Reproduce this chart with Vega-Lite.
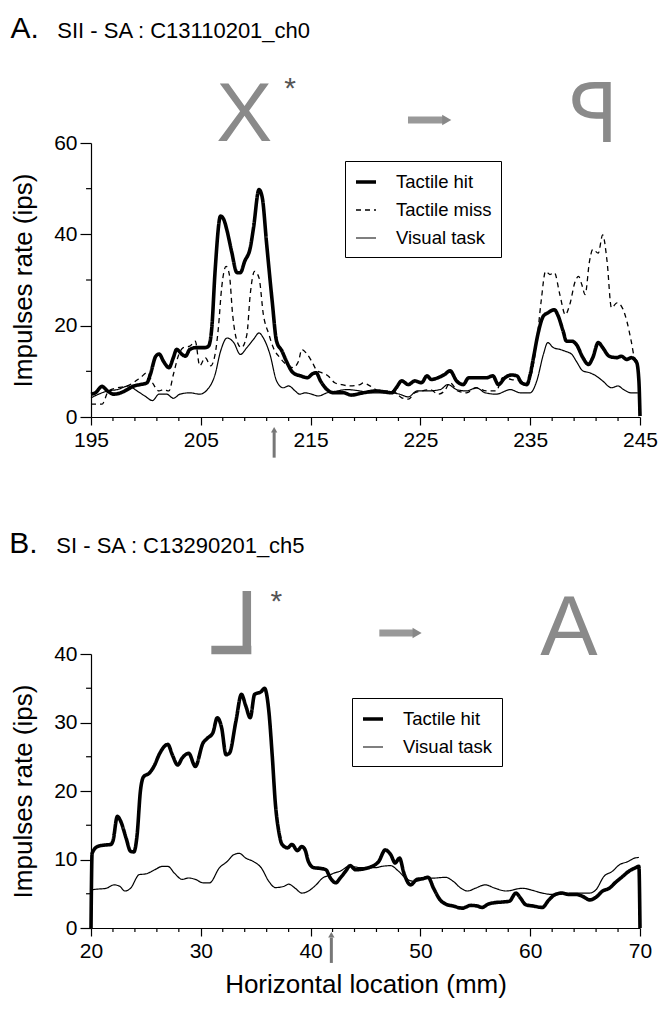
{
"$schema": "https://vega.github.io/schema/vega-lite/v6.json",
"padding": {"left": 9, "top": 14, "right": 5, "bottom": 5},
"bounds": "flush",
"spacing": 237,
"resolve": {"scale": {"x": "independent", "y": "independent", "strokeDash": "independent", "strokeWidth": "independent"}, "legend": {"strokeDash": "independent", "strokeWidth": "independent"}},
"config": {
  "view": {"stroke": null},
  "font": "Liberation Sans",
  "axis": {"domainColor": "black", "domainWidth": 1.2, "tickColor": "black", "tickWidth": 1.2, "labelColor": "black", "titleColor": "black", "labelFont": "Liberation Sans", "titleFont": "Liberation Sans", "labelFontSize": 21, "titleFontSize": 26, "titleFontWeight": "normal", "grid": false, "labelOverlap": false, "labelFlush": false, "labelBound": false},
  "legend": {"labelFont": "Liberation Sans", "labelFontSize": 18.5, "labelColor": "black", "symbolType": "stroke", "symbolSize": 400, "symbolStrokeColor": "black", "strokeColor": "black", "padding": 9, "rowPadding": 7, "labelOffset": 18, "orient": "none"}
},
"datasets": {
  "a": [
{"x":195,"y":5.0,"s":"Tactile hit"},{"x":195.4,"y":5.3,"s":"Tactile hit"},{"x":196.0,"y":6.7,"s":"Tactile hit"},{"x":196.5,"y":5.7,"s":"Tactile hit"},{"x":197.1,"y":5.0,"s":"Tactile hit"},{"x":197.7,"y":5.3,"s":"Tactile hit"},{"x":198.3,"y":6.0,"s":"Tactile hit"},{"x":198.9,"y":6.8,"s":"Tactile hit"},{"x":199.5,"y":7.1,"s":"Tactile hit"},{"x":200.1,"y":7.5,"s":"Tactile hit"},{"x":200.4,"y":9.3,"s":"Tactile hit"},{"x":200.9,"y":13.3,"s":"Tactile hit"},{"x":201.2,"y":13.8,"s":"Tactile hit"},{"x":201.6,"y":12.2,"s":"Tactile hit"},{"x":202.1,"y":10.8,"s":"Tactile hit"},{"x":202.5,"y":13.0,"s":"Tactile hit"},{"x":202.8,"y":14.8,"s":"Tactile hit"},{"x":203.3,"y":13.7,"s":"Tactile hit"},{"x":203.6,"y":13.3,"s":"Tactile hit"},{"x":204.0,"y":14.8,"s":"Tactile hit"},{"x":204.6,"y":15.2,"s":"Tactile hit"},{"x":205.4,"y":15.2,"s":"Tactile hit"},{"x":205.7,"y":15.5,"s":"Tactile hit"},{"x":206.0,"y":19.5,"s":"Tactile hit"},{"x":206.3,"y":31.9,"s":"Tactile hit"},{"x":206.8,"y":44.0,"s":"Tactile hit"},{"x":207.1,"y":43.2,"s":"Tactile hit"},{"x":207.4,"y":40.7,"s":"Tactile hit"},{"x":207.8,"y":36.3,"s":"Tactile hit"},{"x":208.3,"y":31.6,"s":"Tactile hit"},{"x":208.6,"y":31.6,"s":"Tactile hit"},{"x":209.0,"y":34.1,"s":"Tactile hit"},{"x":209.5,"y":37.0,"s":"Tactile hit"},{"x":209.8,"y":41.4,"s":"Tactile hit"},{"x":210.3,"y":49.8,"s":"Tactile hit"},{"x":210.6,"y":48.0,"s":"Tactile hit"},{"x":211.0,"y":37.8,"s":"Tactile hit"},{"x":211.5,"y":25.4,"s":"Tactile hit"},{"x":211.9,"y":16.6,"s":"Tactile hit"},{"x":212.4,"y":14.4,"s":"Tactile hit"},{"x":212.8,"y":12.2,"s":"Tactile hit"},{"x":213.4,"y":9.7,"s":"Tactile hit"},{"x":214.1,"y":9.0,"s":"Tactile hit"},{"x":214.7,"y":8.6,"s":"Tactile hit"},{"x":215.2,"y":9.5,"s":"Tactile hit"},{"x":215.5,"y":9.7,"s":"Tactile hit"},{"x":215.9,"y":7.9,"s":"Tactile hit"},{"x":216.5,"y":6.0,"s":"Tactile hit"},{"x":217.1,"y":5.3,"s":"Tactile hit"},{"x":218.0,"y":5.3,"s":"Tactile hit"},{"x":218.7,"y":4.8,"s":"Tactile hit"},{"x":219.8,"y":5.3,"s":"Tactile hit"},{"x":221.0,"y":5.7,"s":"Tactile hit"},{"x":222.4,"y":5.3,"s":"Tactile hit"},{"x":222.8,"y":6.4,"s":"Tactile hit"},{"x":223.3,"y":7.9,"s":"Tactile hit"},{"x":223.9,"y":7.1,"s":"Tactile hit"},{"x":224.5,"y":7.9,"s":"Tactile hit"},{"x":225.1,"y":7.5,"s":"Tactile hit"},{"x":225.6,"y":9.0,"s":"Tactile hit"},{"x":226.0,"y":8.2,"s":"Tactile hit"},{"x":226.6,"y":8.6,"s":"Tactile hit"},{"x":227.2,"y":9.3,"s":"Tactile hit"},{"x":227.7,"y":10.1,"s":"Tactile hit"},{"x":228.3,"y":7.9,"s":"Tactile hit"},{"x":228.9,"y":7.1,"s":"Tactile hit"},{"x":229.4,"y":8.6,"s":"Tactile hit"},{"x":230.3,"y":8.6,"s":"Tactile hit"},{"x":231.0,"y":8.6,"s":"Tactile hit"},{"x":231.6,"y":9.0,"s":"Tactile hit"},{"x":232.1,"y":7.1,"s":"Tactile hit"},{"x":232.7,"y":8.6,"s":"Tactile hit"},{"x":233.3,"y":9.2,"s":"Tactile hit"},{"x":233.8,"y":9.0,"s":"Tactile hit"},{"x":234.2,"y":7.5,"s":"Tactile hit"},{"x":234.7,"y":7.1,"s":"Tactile hit"},{"x":235.0,"y":9.3,"s":"Tactile hit"},{"x":235.3,"y":13.0,"s":"Tactile hit"},{"x":235.7,"y":18.1,"s":"Tactile hit"},{"x":236.2,"y":22.1,"s":"Tactile hit"},{"x":236.6,"y":22.8,"s":"Tactile hit"},{"x":237.2,"y":23.5,"s":"Tactile hit"},{"x":237.5,"y":22.4,"s":"Tactile hit"},{"x":238.0,"y":18.8,"s":"Tactile hit"},{"x":238.3,"y":16.6,"s":"Tactile hit"},{"x":238.8,"y":16.6,"s":"Tactile hit"},{"x":239.2,"y":15.9,"s":"Tactile hit"},{"x":239.8,"y":13.0,"s":"Tactile hit"},{"x":240.3,"y":11.5,"s":"Tactile hit"},{"x":240.7,"y":13.0,"s":"Tactile hit"},{"x":241.2,"y":16.3,"s":"Tactile hit"},{"x":241.6,"y":15.2,"s":"Tactile hit"},{"x":242.2,"y":13.3,"s":"Tactile hit"},{"x":242.9,"y":13.0,"s":"Tactile hit"},{"x":243.3,"y":13.3,"s":"Tactile hit"},{"x":243.8,"y":12.6,"s":"Tactile hit"},{"x":244.2,"y":13.0,"s":"Tactile hit"},{"x":244.7,"y":11.9,"s":"Tactile hit"},{"x":244.9,"y":7.9,"s":"Tactile hit"},{"x":245.0,"y":0.2,"s":"Tactile hit"},
{"x":195,"y":2.8,"s":"Tactile miss"},{"x":196.0,"y":2.8,"s":"Tactile miss"},{"x":196.6,"y":5.7,"s":"Tactile miss"},{"x":197.4,"y":6.4,"s":"Tactile miss"},{"x":198.3,"y":6.8,"s":"Tactile miss"},{"x":199.5,"y":8.6,"s":"Tactile miss"},{"x":200.1,"y":9.7,"s":"Tactile miss"},{"x":200.6,"y":7.5,"s":"Tactile miss"},{"x":201.2,"y":5.7,"s":"Tactile miss"},{"x":201.6,"y":6.0,"s":"Tactile miss"},{"x":202.1,"y":5.7,"s":"Tactile miss"},{"x":202.5,"y":9.3,"s":"Tactile miss"},{"x":203.0,"y":13.7,"s":"Tactile miss"},{"x":203.4,"y":15.2,"s":"Tactile miss"},{"x":204.0,"y":15.5,"s":"Tactile miss"},{"x":204.5,"y":16.6,"s":"Tactile miss"},{"x":204.9,"y":11.2,"s":"Tactile miss"},{"x":205.4,"y":13.0,"s":"Tactile miss"},{"x":205.9,"y":11.2,"s":"Tactile miss"},{"x":206.3,"y":13.7,"s":"Tactile miss"},{"x":206.6,"y":19.5,"s":"Tactile miss"},{"x":206.9,"y":28.3,"s":"Tactile miss"},{"x":207.3,"y":33.0,"s":"Tactile miss"},{"x":207.6,"y":31.2,"s":"Tactile miss"},{"x":207.9,"y":22.4,"s":"Tactile miss"},{"x":208.3,"y":16.6,"s":"Tactile miss"},{"x":208.7,"y":15.2,"s":"Tactile miss"},{"x":209.2,"y":18.1,"s":"Tactile miss"},{"x":209.5,"y":26.8,"s":"Tactile miss"},{"x":209.9,"y":31.9,"s":"Tactile miss"},{"x":210.3,"y":30.5,"s":"Tactile miss"},{"x":210.7,"y":22.4,"s":"Tactile miss"},{"x":211.2,"y":18.1,"s":"Tactile miss"},{"x":211.6,"y":15.2,"s":"Tactile miss"},{"x":212.2,"y":13.0,"s":"Tactile miss"},{"x":212.8,"y":11.5,"s":"Tactile miss"},{"x":213.4,"y":10.8,"s":"Tactile miss"},{"x":213.9,"y":12.2,"s":"Tactile miss"},{"x":214.2,"y":14.8,"s":"Tactile miss"},{"x":214.7,"y":13.7,"s":"Tactile miss"},{"x":215.1,"y":12.2,"s":"Tactile miss"},{"x":215.6,"y":10.1,"s":"Tactile miss"},{"x":216.0,"y":9.7,"s":"Tactile miss"},{"x":216.6,"y":9.0,"s":"Tactile miss"},{"x":217.2,"y":7.5,"s":"Tactile miss"},{"x":217.8,"y":7.1,"s":"Tactile miss"},{"x":218.6,"y":6.8,"s":"Tactile miss"},{"x":219.5,"y":7.1,"s":"Tactile miss"},{"x":219.8,"y":7.5,"s":"Tactile miss"},{"x":220.4,"y":6.8,"s":"Tactile miss"},{"x":221.3,"y":5.7,"s":"Tactile miss"},{"x":222.5,"y":5.7,"s":"Tactile miss"},{"x":223.3,"y":4.2,"s":"Tactile miss"},{"x":223.9,"y":3.9,"s":"Tactile miss"},{"x":224.5,"y":5.3,"s":"Tactile miss"},{"x":225.1,"y":5.7,"s":"Tactile miss"},{"x":225.9,"y":6.0,"s":"Tactile miss"},{"x":226.6,"y":5.0,"s":"Tactile miss"},{"x":227.2,"y":5.7,"s":"Tactile miss"},{"x":227.7,"y":7.5,"s":"Tactile miss"},{"x":228.4,"y":5.7,"s":"Tactile miss"},{"x":229.2,"y":5.3,"s":"Tactile miss"},{"x":230.1,"y":6.4,"s":"Tactile miss"},{"x":231.0,"y":5.7,"s":"Tactile miss"},{"x":231.9,"y":5.7,"s":"Tactile miss"},{"x":232.5,"y":8.6,"s":"Tactile miss"},{"x":233.3,"y":8.2,"s":"Tactile miss"},{"x":234.1,"y":7.9,"s":"Tactile miss"},{"x":234.7,"y":7.5,"s":"Tactile miss"},{"x":235.1,"y":9.3,"s":"Tactile miss"},{"x":235.6,"y":16.6,"s":"Tactile miss"},{"x":236.0,"y":25.4,"s":"Tactile miss"},{"x":236.4,"y":31.9,"s":"Tactile miss"},{"x":236.8,"y":31.2,"s":"Tactile miss"},{"x":237.2,"y":31.6,"s":"Tactile miss"},{"x":237.7,"y":26.8,"s":"Tactile miss"},{"x":238.2,"y":22.4,"s":"Tactile miss"},{"x":238.6,"y":24.6,"s":"Tactile miss"},{"x":239.1,"y":29.7,"s":"Tactile miss"},{"x":239.4,"y":30.8,"s":"Tactile miss"},{"x":239.7,"y":29.0,"s":"Tactile miss"},{"x":240.0,"y":26.8,"s":"Tactile miss"},{"x":240.4,"y":34.1,"s":"Tactile miss"},{"x":240.7,"y":36.7,"s":"Tactile miss"},{"x":241.2,"y":35.9,"s":"Tactile miss"},{"x":241.6,"y":39.9,"s":"Tactile miss"},{"x":242.0,"y":34.1,"s":"Tactile miss"},{"x":242.4,"y":23.9,"s":"Tactile miss"},{"x":242.9,"y":25.0,"s":"Tactile miss"},{"x":243.3,"y":24.3,"s":"Tactile miss"},{"x":243.8,"y":21.0,"s":"Tactile miss"},{"x":244.2,"y":16.6,"s":"Tactile miss"},{"x":244.5,"y":13.0,"s":"Tactile miss"},{"x":244.8,"y":12.2,"s":"Tactile miss"},
{"x":195,"y":4.2,"s":"Visual task"},{"x":195.7,"y":5.0,"s":"Visual task"},{"x":196.5,"y":5.7,"s":"Visual task"},{"x":197.4,"y":6.0,"s":"Visual task"},{"x":198.4,"y":6.8,"s":"Visual task"},{"x":199.2,"y":5.7,"s":"Visual task"},{"x":199.9,"y":4.6,"s":"Visual task"},{"x":200.6,"y":3.6,"s":"Visual task"},{"x":201.2,"y":5.0,"s":"Visual task"},{"x":201.9,"y":5.0,"s":"Visual task"},{"x":202.5,"y":4.1,"s":"Visual task"},{"x":203.1,"y":5.0,"s":"Visual task"},{"x":204.0,"y":5.3,"s":"Visual task"},{"x":204.9,"y":5.0,"s":"Visual task"},{"x":205.6,"y":6.0,"s":"Visual task"},{"x":206.3,"y":9.3,"s":"Visual task"},{"x":206.8,"y":14.4,"s":"Visual task"},{"x":207.4,"y":17.3,"s":"Visual task"},{"x":208.0,"y":16.3,"s":"Visual task"},{"x":208.6,"y":13.7,"s":"Visual task"},{"x":209.2,"y":15.2,"s":"Visual task"},{"x":209.8,"y":17.0,"s":"Visual task"},{"x":210.3,"y":18.4,"s":"Visual task"},{"x":210.7,"y":17.3,"s":"Visual task"},{"x":211.3,"y":13.7,"s":"Visual task"},{"x":211.9,"y":7.9,"s":"Visual task"},{"x":212.5,"y":6.4,"s":"Visual task"},{"x":213.0,"y":6.8,"s":"Visual task"},{"x":213.6,"y":5.7,"s":"Visual task"},{"x":214.0,"y":5.0,"s":"Visual task"},{"x":214.5,"y":5.3,"s":"Visual task"},{"x":215.1,"y":5.0,"s":"Visual task"},{"x":215.7,"y":4.6,"s":"Visual task"},{"x":216.5,"y":5.3,"s":"Visual task"},{"x":217.4,"y":5.7,"s":"Visual task"},{"x":218.3,"y":6.0,"s":"Visual task"},{"x":219.5,"y":5.7,"s":"Visual task"},{"x":220.4,"y":5.3,"s":"Visual task"},{"x":222.2,"y":5.3,"s":"Visual task"},{"x":223.1,"y":5.0,"s":"Visual task"},{"x":223.9,"y":4.4,"s":"Visual task"},{"x":224.7,"y":5.7,"s":"Visual task"},{"x":225.6,"y":5.7,"s":"Visual task"},{"x":226.8,"y":6.0,"s":"Visual task"},{"x":227.5,"y":7.1,"s":"Visual task"},{"x":228.3,"y":6.0,"s":"Visual task"},{"x":229.2,"y":5.7,"s":"Visual task"},{"x":230.1,"y":6.4,"s":"Visual task"},{"x":230.9,"y":5.3,"s":"Visual task"},{"x":231.9,"y":5.0,"s":"Visual task"},{"x":233.2,"y":6.0,"s":"Visual task"},{"x":234.1,"y":5.3,"s":"Visual task"},{"x":235.0,"y":5.3,"s":"Visual task"},{"x":235.6,"y":7.9,"s":"Visual task"},{"x":236.2,"y":13.7,"s":"Visual task"},{"x":236.6,"y":16.3,"s":"Visual task"},{"x":237.1,"y":15.2,"s":"Visual task"},{"x":237.7,"y":14.8,"s":"Visual task"},{"x":238.2,"y":14.4,"s":"Visual task"},{"x":238.8,"y":13.7,"s":"Visual task"},{"x":239.2,"y":12.2,"s":"Visual task"},{"x":239.8,"y":10.1,"s":"Visual task"},{"x":240.4,"y":9.7,"s":"Visual task"},{"x":241.0,"y":9.0,"s":"Visual task"},{"x":241.6,"y":7.9,"s":"Visual task"},{"x":242.4,"y":6.4,"s":"Visual task"},{"x":243.0,"y":6.8,"s":"Visual task"},{"x":243.5,"y":6.0,"s":"Visual task"},{"x":244.2,"y":5.3,"s":"Visual task"},{"x":244.8,"y":5.3,"s":"Visual task"}
  ],
  "b": [
{"x":20,"y":0,"s":"Tactile hit"},{"x":20.1,"y":10.9,"s":"Tactile hit"},{"x":20.6,"y":11.9,"s":"Tactile hit"},{"x":21.2,"y":12.1,"s":"Tactile hit"},{"x":21.8,"y":12.2,"s":"Tactile hit"},{"x":22.0,"y":12.7,"s":"Tactile hit"},{"x":22.4,"y":16.3,"s":"Tactile hit"},{"x":22.7,"y":15.6,"s":"Tactile hit"},{"x":23.2,"y":13.1,"s":"Tactile hit"},{"x":23.6,"y":11.2,"s":"Tactile hit"},{"x":23.9,"y":11.1,"s":"Tactile hit"},{"x":24.2,"y":13.6,"s":"Tactile hit"},{"x":24.5,"y":20.0,"s":"Tactile hit"},{"x":24.8,"y":22.1,"s":"Tactile hit"},{"x":25.3,"y":22.6,"s":"Tactile hit"},{"x":25.8,"y":23.8,"s":"Tactile hit"},{"x":26.2,"y":25.3,"s":"Tactile hit"},{"x":27.0,"y":26.8,"s":"Tactile hit"},{"x":27.4,"y":25.3,"s":"Tactile hit"},{"x":27.9,"y":23.8,"s":"Tactile hit"},{"x":28.3,"y":24.8,"s":"Tactile hit"},{"x":28.9,"y":25.5,"s":"Tactile hit"},{"x":29.5,"y":23.6,"s":"Tactile hit"},{"x":30.2,"y":27.0,"s":"Tactile hit"},{"x":30.6,"y":27.7,"s":"Tactile hit"},{"x":31.1,"y":28.5,"s":"Tactile hit"},{"x":31.5,"y":30.7,"s":"Tactile hit"},{"x":31.9,"y":29.2,"s":"Tactile hit"},{"x":32.3,"y":25.3,"s":"Tactile hit"},{"x":32.6,"y":25.5,"s":"Tactile hit"},{"x":33.2,"y":30.2,"s":"Tactile hit"},{"x":33.7,"y":34.1,"s":"Tactile hit"},{"x":34.1,"y":32.4,"s":"Tactile hit"},{"x":34.5,"y":30.7,"s":"Tactile hit"},{"x":34.9,"y":34.1,"s":"Tactile hit"},{"x":35.5,"y":34.5,"s":"Tactile hit"},{"x":35.8,"y":35.0,"s":"Tactile hit"},{"x":36.2,"y":31.6,"s":"Tactile hit"},{"x":36.5,"y":25.3,"s":"Tactile hit"},{"x":36.8,"y":18.0,"s":"Tactile hit"},{"x":37.1,"y":14.1,"s":"Tactile hit"},{"x":37.4,"y":12.2,"s":"Tactile hit"},{"x":37.9,"y":11.7,"s":"Tactile hit"},{"x":38.3,"y":12.2,"s":"Tactile hit"},{"x":38.8,"y":11.3,"s":"Tactile hit"},{"x":39.2,"y":11.9,"s":"Tactile hit"},{"x":39.5,"y":11.4,"s":"Tactile hit"},{"x":39.8,"y":9.7,"s":"Tactile hit"},{"x":40.3,"y":8.8,"s":"Tactile hit"},{"x":40.9,"y":8.7,"s":"Tactile hit"},{"x":41.4,"y":8.5,"s":"Tactile hit"},{"x":41.8,"y":7.3,"s":"Tactile hit"},{"x":42.3,"y":6.6,"s":"Tactile hit"},{"x":42.7,"y":7.3,"s":"Tactile hit"},{"x":43.2,"y":8.3,"s":"Tactile hit"},{"x":43.6,"y":9.1,"s":"Tactile hit"},{"x":44.1,"y":8.5,"s":"Tactile hit"},{"x":45.6,"y":9.0,"s":"Tactile hit"},{"x":46.2,"y":9.7,"s":"Tactile hit"},{"x":46.8,"y":11.4,"s":"Tactile hit"},{"x":47.3,"y":10.7,"s":"Tactile hit"},{"x":47.7,"y":9.5,"s":"Tactile hit"},{"x":48.1,"y":10.2,"s":"Tactile hit"},{"x":48.5,"y":8.0,"s":"Tactile hit"},{"x":49.1,"y":6.3,"s":"Tactile hit"},{"x":49.7,"y":7.1,"s":"Tactile hit"},{"x":50.2,"y":7.2,"s":"Tactile hit"},{"x":50.7,"y":7.4,"s":"Tactile hit"},{"x":51.2,"y":5.8,"s":"Tactile hit"},{"x":51.8,"y":4.1,"s":"Tactile hit"},{"x":52.3,"y":3.5,"s":"Tactile hit"},{"x":53.0,"y":3.2,"s":"Tactile hit"},{"x":53.8,"y":2.9,"s":"Tactile hit"},{"x":54.6,"y":3.3,"s":"Tactile hit"},{"x":55.2,"y":3.2,"s":"Tactile hit"},{"x":55.6,"y":3.0,"s":"Tactile hit"},{"x":56.2,"y":3.5,"s":"Tactile hit"},{"x":56.8,"y":3.7,"s":"Tactile hit"},{"x":57.5,"y":3.8,"s":"Tactile hit"},{"x":58.1,"y":3.9,"s":"Tactile hit"},{"x":58.7,"y":5.1,"s":"Tactile hit"},{"x":59.1,"y":4.4,"s":"Tactile hit"},{"x":59.6,"y":3.4,"s":"Tactile hit"},{"x":60.3,"y":3.2,"s":"Tactile hit"},{"x":61.1,"y":3.0,"s":"Tactile hit"},{"x":61.7,"y":4.1,"s":"Tactile hit"},{"x":62.3,"y":4.9,"s":"Tactile hit"},{"x":62.9,"y":5.1,"s":"Tactile hit"},{"x":63.5,"y":4.9,"s":"Tactile hit"},{"x":64.2,"y":4.9,"s":"Tactile hit"},{"x":64.8,"y":4.6,"s":"Tactile hit"},{"x":65.4,"y":4.1,"s":"Tactile hit"},{"x":66.0,"y":4.5,"s":"Tactile hit"},{"x":66.6,"y":5.4,"s":"Tactile hit"},{"x":67.2,"y":5.8,"s":"Tactile hit"},{"x":67.8,"y":6.7,"s":"Tactile hit"},{"x":68.4,"y":7.5,"s":"Tactile hit"},{"x":69.0,"y":8.3,"s":"Tactile hit"},{"x":69.6,"y":8.8,"s":"Tactile hit"},{"x":69.9,"y":9.0,"s":"Tactile hit"},{"x":70,"y":0,"s":"Tactile hit"},
{"x":20,"y":5.5,"s":"Visual task"},{"x":20.2,"y":5.6,"s":"Visual task"},{"x":21.4,"y":5.8,"s":"Visual task"},{"x":22.1,"y":6.3,"s":"Visual task"},{"x":22.6,"y":6.1,"s":"Visual task"},{"x":23.1,"y":5.4,"s":"Visual task"},{"x":23.6,"y":5.8,"s":"Visual task"},{"x":24.4,"y":7.8,"s":"Visual task"},{"x":25.0,"y":7.9,"s":"Visual task"},{"x":25.8,"y":8.5,"s":"Visual task"},{"x":26.5,"y":9.0,"s":"Visual task"},{"x":27.0,"y":9.0,"s":"Visual task"},{"x":27.6,"y":8.0,"s":"Visual task"},{"x":28.3,"y":7.1,"s":"Visual task"},{"x":28.9,"y":7.3,"s":"Visual task"},{"x":29.5,"y":7.1,"s":"Visual task"},{"x":30.2,"y":6.6,"s":"Visual task"},{"x":30.8,"y":6.6,"s":"Visual task"},{"x":31.7,"y":8.8,"s":"Visual task"},{"x":32.4,"y":9.7,"s":"Visual task"},{"x":33.0,"y":10.7,"s":"Visual task"},{"x":33.5,"y":10.9,"s":"Visual task"},{"x":34.1,"y":10.2,"s":"Visual task"},{"x":34.8,"y":9.7,"s":"Visual task"},{"x":35.5,"y":8.8,"s":"Visual task"},{"x":36.2,"y":6.8,"s":"Visual task"},{"x":36.8,"y":5.9,"s":"Visual task"},{"x":37.6,"y":6.1,"s":"Visual task"},{"x":38.0,"y":6.4,"s":"Visual task"},{"x":38.6,"y":5.8,"s":"Visual task"},{"x":39.2,"y":5.1,"s":"Visual task"},{"x":39.8,"y":5.4,"s":"Visual task"},{"x":40.5,"y":6.3,"s":"Visual task"},{"x":41.1,"y":7.3,"s":"Visual task"},{"x":41.7,"y":7.7,"s":"Visual task"},{"x":42.1,"y":8.0,"s":"Visual task"},{"x":42.7,"y":8.3,"s":"Visual task"},{"x":43.5,"y":9.0,"s":"Visual task"},{"x":44.7,"y":8.8,"s":"Visual task"},{"x":45.9,"y":8.8,"s":"Visual task"},{"x":46.5,"y":9.0,"s":"Visual task"},{"x":47.3,"y":9.1,"s":"Visual task"},{"x":48.0,"y":8.3,"s":"Visual task"},{"x":48.8,"y":7.1,"s":"Visual task"},{"x":49.5,"y":6.8,"s":"Visual task"},{"x":50.5,"y":7.2,"s":"Visual task"},{"x":51.4,"y":7.3,"s":"Visual task"},{"x":52.3,"y":7.4,"s":"Visual task"},{"x":53.0,"y":6.8,"s":"Visual task"},{"x":53.7,"y":5.8,"s":"Visual task"},{"x":54.3,"y":5.4,"s":"Visual task"},{"x":55.0,"y":5.8,"s":"Visual task"},{"x":55.9,"y":6.3,"s":"Visual task"},{"x":56.8,"y":5.8,"s":"Visual task"},{"x":57.8,"y":5.4,"s":"Visual task"},{"x":59.3,"y":5.8,"s":"Visual task"},{"x":60.2,"y":5.5,"s":"Visual task"},{"x":61.1,"y":5.1,"s":"Visual task"},{"x":62.0,"y":4.9,"s":"Visual task"},{"x":62.9,"y":5.0,"s":"Visual task"},{"x":63.9,"y":5.1,"s":"Visual task"},{"x":65.4,"y":5.1,"s":"Visual task"},{"x":66.0,"y":5.6,"s":"Visual task"},{"x":66.7,"y":7.5,"s":"Visual task"},{"x":67.5,"y":8.3,"s":"Visual task"},{"x":68.1,"y":9.2,"s":"Visual task"},{"x":68.9,"y":9.7,"s":"Visual task"},{"x":69.5,"y":10.2,"s":"Visual task"},{"x":69.9,"y":10.3,"s":"Visual task"}
  ],
  "aminor": [
{"x":197,"x2":197,"y":0,"y2":-0.875},{"x":199,"x2":199,"y":0,"y2":-0.875},{"x":201,"x2":201,"y":0,"y2":-0.875},{"x":203,"x2":203,"y":0,"y2":-0.875},
{"x":207,"x2":207,"y":0,"y2":-0.875},{"x":209,"x2":209,"y":0,"y2":-0.875},{"x":211,"x2":211,"y":0,"y2":-0.875},{"x":213,"x2":213,"y":0,"y2":-0.875},
{"x":217,"x2":217,"y":0,"y2":-0.875},{"x":219,"x2":219,"y":0,"y2":-0.875},{"x":221,"x2":221,"y":0,"y2":-0.875},{"x":223,"x2":223,"y":0,"y2":-0.875},
{"x":227,"x2":227,"y":0,"y2":-0.875},{"x":229,"x2":229,"y":0,"y2":-0.875},{"x":231,"x2":231,"y":0,"y2":-0.875},{"x":233,"x2":233,"y":0,"y2":-0.875},
{"x":237,"x2":237,"y":0,"y2":-0.875},{"x":239,"x2":239,"y":0,"y2":-0.875},{"x":241,"x2":241,"y":0,"y2":-0.875},{"x":243,"x2":243,"y":0,"y2":-0.875},
{"x":195,"x2":194.55,"y":10,"y2":10},{"x":195,"x2":194.55,"y":30,"y2":30},{"x":195,"x2":194.55,"y":50,"y2":50}
  ],
  "bminor": [
{"x":22,"x2":22,"y":0,"y2":-0.584},{"x":24,"x2":24,"y":0,"y2":-0.584},{"x":26,"x2":26,"y":0,"y2":-0.584},{"x":28,"x2":28,"y":0,"y2":-0.584},
{"x":32,"x2":32,"y":0,"y2":-0.584},{"x":34,"x2":34,"y":0,"y2":-0.584},{"x":36,"x2":36,"y":0,"y2":-0.584},{"x":38,"x2":38,"y":0,"y2":-0.584},
{"x":42,"x2":42,"y":0,"y2":-0.584},{"x":44,"x2":44,"y":0,"y2":-0.584},{"x":46,"x2":46,"y":0,"y2":-0.584},{"x":48,"x2":48,"y":0,"y2":-0.584},
{"x":52,"x2":52,"y":0,"y2":-0.584},{"x":54,"x2":54,"y":0,"y2":-0.584},{"x":56,"x2":56,"y":0,"y2":-0.584},{"x":58,"x2":58,"y":0,"y2":-0.584},
{"x":62,"x2":62,"y":0,"y2":-0.584},{"x":64,"x2":64,"y":0,"y2":-0.584},{"x":66,"x2":66,"y":0,"y2":-0.584},{"x":68,"x2":68,"y":0,"y2":-0.584},
{"x":20,"x2":19.55,"y":5,"y2":5},{"x":20,"x2":19.55,"y":15,"y2":15},{"x":20,"x2":19.55,"y":25,"y2":25},{"x":20,"x2":19.55,"y":35,"y2":35}
  ]
},
"vconcat": [
{
  "width": 549, "height": 274,
  "layer": [
    {
      "data": {"name": "a"},
      "mark": {"type": "line", "color": "black", "interpolate": "monotone", "clip": false},
      "encoding": {
        "x": {"field": "x", "type": "quantitative", "scale": {"domain": [195, 245], "nice": false, "zero": false},
          "axis": {"title": null, "values": [195, 205, 215, 225, 235, 245], "tickSize": 8, "labelPadding": 4, "labelOverlap": false, "labelFlush": false, "labelBound": false}},
        "y": {"field": "y", "type": "quantitative", "scale": {"domain": [0, 60], "nice": false},
          "axis": {"title": "Impulses rate (ips)", "values": [0, 20, 40, 60], "tickSize": 11, "labelPadding": 3, "titlePadding": 17, "labelOverlap": false}},
        "strokeDash": {"field": "s", "type": "nominal", "scale": {"domain": ["Tactile hit", "Tactile miss", "Visual task"], "range": [[1, 0], [5, 4], [1, 0]]},
          "legend": {"title": null, "orient": "none", "legendX": 254, "legendY": 18}},
        "strokeWidth": {"field": "s", "type": "nominal", "scale": {"type": "ordinal", "domain": ["Tactile hit", "Tactile miss", "Visual task"], "range": [3.6, 1.3, 1.2]},
          "legend": {"title": null, "orient": "none", "legendX": 254, "legendY": 18}}
      }
    },
    {
      "data": {"name": "aminor"},
      "mark": {"type": "rule", "color": "black", "strokeWidth": 1.2, "clip": false},
      "encoding": {"x": {"field": "x", "type": "quantitative"}, "x2": {"field": "x2"}, "y": {"field": "y", "type": "quantitative"}, "y2": {"field": "y2"}}
    },
    {
      "data": {"values": [{"x": 187.66, "y": 82.96, "t": "A."}]},
      "mark": {"type": "text", "fontSize": 30, "align": "left", "baseline": "alphabetic", "color": "black", "clip": false},
      "encoding": {"x": {"field": "x", "type": "quantitative"}, "y": {"field": "y", "type": "quantitative"}, "text": {"field": "t"}}
    },
    {
      "data": {"values": [{"x": 191.93, "y": 82.96, "t": "SII - SA : C13110201_ch0"}]},
      "mark": {"type": "text", "fontSize": 22, "align": "left", "baseline": "alphabetic", "color": "black", "clip": false},
      "encoding": {"x": {"field": "x", "type": "quantitative"}, "y": {"field": "y", "type": "quantitative"}, "text": {"field": "t"}}
    },
    {
      "data": {"values": [{"x": 208.95, "y": 60.43, "t": "X"}, {"x": 240.75, "y": 60.21, "t": "ꟼ"}]},
      "mark": {"type": "text", "fontSize": 84, "align": "center", "baseline": "alphabetic", "color": "#8a8a8a", "clip": false},
      "encoding": {"x": {"field": "x", "type": "quantitative"}, "y": {"field": "y", "type": "quantitative"}, "text": {"field": "t"}}
    },
    {
      "data": {"values": [{"x": 213.13, "y": 69.85, "t": "*"}]},
      "mark": {"type": "text", "fontSize": 30, "align": "center", "baseline": "alphabetic", "color": "#555555", "clip": false},
      "encoding": {"x": {"field": "x", "type": "quantitative"}, "y": {"field": "y", "type": "quantitative"}, "text": {"field": "t"}}
    },
    {
      "data": {"values": [{"x": 223.87, "x2": 227.1, "y": 65.03, "y2": 65.03}]},
      "mark": {"type": "rule", "color": "#999999", "strokeWidth": 7, "clip": false},
      "encoding": {"x": {"field": "x", "type": "quantitative"}, "x2": {"field": "x2"}, "y": {"field": "y", "type": "quantitative"}, "y2": {"field": "y2"}}
    },
    {
      "data": {"values": [{"x": 227.4, "y": 65.03}]},
      "mark": {"type": "point", "shape": "triangle-right", "filled": true, "color": "#888888", "size": 110, "opacity": 1, "clip": false},
      "encoding": {"x": {"field": "x", "type": "quantitative"}, "y": {"field": "y", "type": "quantitative"}}
    },
    {
      "data": {"values": [{"x": 211.68, "x2": 211.68, "y": -3.3, "y2": -8.9}]},
      "mark": {"type": "rule", "color": "#777777", "strokeWidth": 3, "clip": false},
      "encoding": {"x": {"field": "x", "type": "quantitative"}, "x2": {"field": "x2"}, "y": {"field": "y", "type": "quantitative"}, "y2": {"field": "y2"}}
    },
    {
      "data": {"values": [{"x": 211.68, "y": -2.8}]},
      "mark": {"type": "point", "shape": "triangle-up", "filled": true, "color": "#777777", "size": 40, "opacity": 1, "clip": false},
      "encoding": {"x": {"field": "x", "type": "quantitative"}, "y": {"field": "y", "type": "quantitative"}}
    }
  ]
},
{
  "width": 549, "height": 274,
  "layer": [
    {
      "data": {"name": "b"},
      "mark": {"type": "line", "color": "black", "interpolate": "monotone", "clip": false},
      "encoding": {
        "x": {"field": "x", "type": "quantitative", "scale": {"domain": [20, 70], "nice": false, "zero": false},
          "axis": {"title": "Horizontal location (mm)", "values": [20, 30, 40, 50, 60, 70], "tickSize": 8, "labelPadding": 4, "titlePadding": 10, "labelOverlap": false, "labelFlush": false, "labelBound": false}},
        "y": {"field": "y", "type": "quantitative", "scale": {"domain": [0, 40], "nice": false},
          "axis": {"title": "Impulses rate (ips)", "values": [0, 10, 20, 30, 40], "tickSize": 11, "labelPadding": 3, "titlePadding": 17, "labelOverlap": false}},
        "strokeDash": {"field": "s", "type": "nominal", "scale": {"domain": ["Tactile hit", "Visual task"], "range": [[1, 0], [1, 0]]},
          "legend": {"title": null, "orient": "none", "legendX": 261, "legendY": 44}},
        "strokeWidth": {"field": "s", "type": "nominal", "scale": {"type": "ordinal", "domain": ["Tactile hit", "Visual task"], "range": [3.6, 1.2]},
          "legend": {"title": null, "orient": "none", "legendX": 261, "legendY": 44}}
      }
    },
    {
      "data": {"name": "bminor"},
      "mark": {"type": "rule", "color": "black", "strokeWidth": 1.2, "clip": false},
      "encoding": {"x": {"field": "x", "type": "quantitative"}, "x2": {"field": "x2"}, "y": {"field": "y", "type": "quantitative"}, "y2": {"field": "y2"}}
    },
    {
      "data": {"values": [{"x": 12.56, "y": 54.74, "t": "B."}]},
      "mark": {"type": "text", "fontSize": 30, "align": "left", "baseline": "alphabetic", "color": "black", "clip": false},
      "encoding": {"x": {"field": "x", "type": "quantitative"}, "y": {"field": "y", "type": "quantitative"}, "text": {"field": "t"}}
    },
    {
      "data": {"values": [{"x": 16.84, "y": 54.74, "t": "SI - SA : C13290201_ch5"}]},
      "mark": {"type": "text", "fontSize": 22, "align": "left", "baseline": "alphabetic", "color": "black", "clip": false},
      "encoding": {"x": {"field": "x", "type": "quantitative"}, "y": {"field": "y", "type": "quantitative"}, "text": {"field": "t"}}
    },
    {
      "data": {"values": [{"x": 63.52, "y": 39.85, "t": "A"}]},
      "mark": {"type": "text", "fontSize": 86, "align": "center", "baseline": "alphabetic", "color": "#8a8a8a", "clip": false},
      "encoding": {"x": {"field": "x", "type": "quantitative"}, "y": {"field": "y", "type": "quantitative"}, "text": {"field": "t"}}
    },
    {
      "data": {"values": [{"x": 34.19, "x2": 34.19, "y": 49.2, "y2": 40.0}, {"x": 30.96, "x2": 34.6, "y": 40.58, "y2": 40.58}]},
      "mark": {"type": "rule", "color": "#8a8a8a", "strokeWidth": 8.5, "clip": false},
      "encoding": {"x": {"field": "x", "type": "quantitative"}, "x2": {"field": "x2"}, "y": {"field": "y", "type": "quantitative"}, "y2": {"field": "y2"}}
    },
    {
      "data": {"values": [{"x": 36.88, "y": 46.28, "t": "*"}]},
      "mark": {"type": "text", "fontSize": 30, "align": "center", "baseline": "alphabetic", "color": "#555555", "clip": false},
      "encoding": {"x": {"field": "x", "type": "quantitative"}, "y": {"field": "y", "type": "quantitative"}, "text": {"field": "t"}}
    },
    {
      "data": {"values": [{"x": 46.26, "x2": 49.4, "y": 43.07, "y2": 43.07}]},
      "mark": {"type": "rule", "color": "#999999", "strokeWidth": 7, "clip": false},
      "encoding": {"x": {"field": "x", "type": "quantitative"}, "x2": {"field": "x2"}, "y": {"field": "y", "type": "quantitative"}, "y2": {"field": "y2"}}
    },
    {
      "data": {"values": [{"x": 49.7, "y": 43.07}]},
      "mark": {"type": "point", "shape": "triangle-right", "filled": true, "color": "#888888", "size": 110, "opacity": 1, "clip": false},
      "encoding": {"x": {"field": "x", "type": "quantitative"}, "y": {"field": "y", "type": "quantitative"}}
    },
    {
      "data": {"values": [{"x": 41.89, "x2": 41.89, "y": -1.4, "y2": -5.1}]},
      "mark": {"type": "rule", "color": "#777777", "strokeWidth": 3, "clip": false},
      "encoding": {"x": {"field": "x", "type": "quantitative"}, "x2": {"field": "x2"}, "y": {"field": "y", "type": "quantitative"}, "y2": {"field": "y2"}}
    },
    {
      "data": {"values": [{"x": 41.89, "y": -1.0}]},
      "mark": {"type": "point", "shape": "triangle-up", "filled": true, "color": "#777777", "size": 40, "opacity": 1, "clip": false},
      "encoding": {"x": {"field": "x", "type": "quantitative"}, "y": {"field": "y", "type": "quantitative"}}
    }
  ]
}
]
}
